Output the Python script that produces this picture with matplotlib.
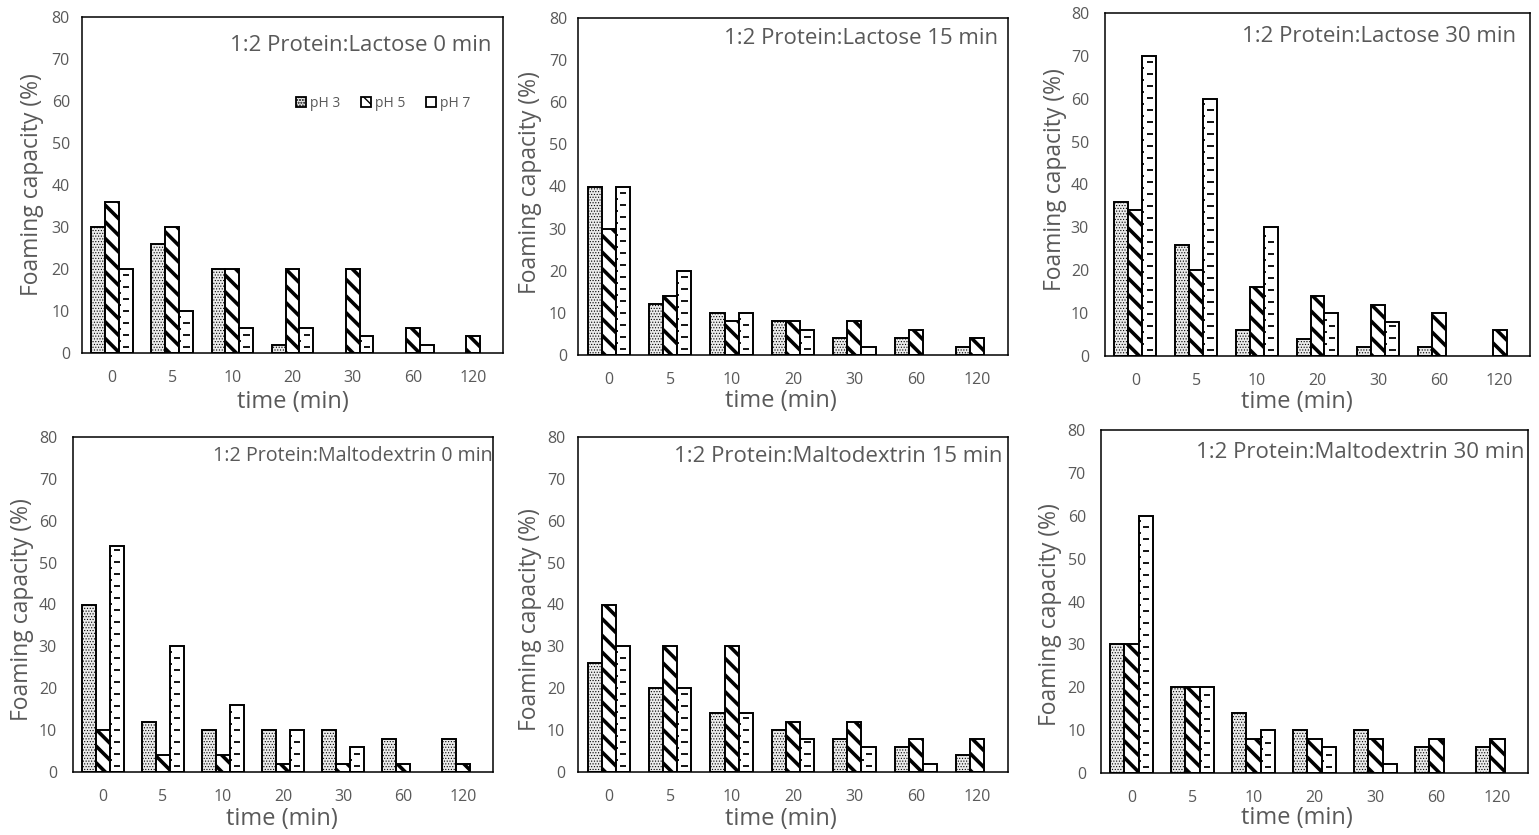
import numpy as np
import matplotlib
matplotlib.use("Agg")
import matplotlib.pyplot as plt
from matplotlib.collections import LineCollection
from matplotlib.patches import Patch

plt.rcParams["font.family"] = ["Open Sans", "DejaVu Sans"]

# ---------------------------------------------------------------- data
times = ["0", "5", "10", "20", "30", "60", "120"]
ph_labels = ["pH 3", "pH 5", "pH 7"]

lac0_ph3 = [30, 26, 20, 2, 0, 0, 0]
lac0_ph5 = [36, 30, 20, 20, 20, 6, 4]
lac0_ph7 = [20, 10, 6, 6, 4, 2, 0]

lac15_ph3 = [40, 12, 10, 8, 4, 4, 2]
lac15_ph5 = [30, 14, 8, 8, 8, 6, 4]
lac15_ph7 = [40, 20, 10, 6, 2, 0, 0]

lac30_ph3 = [36, 26, 6, 4, 2, 2, 0]
lac30_ph5 = [34, 20, 16, 14, 12, 10, 6]
lac30_ph7 = [70, 60, 30, 10, 8, 0, 0]

mal0_ph3 = [40, 12, 10, 10, 10, 8, 8]
mal0_ph5 = [10, 4, 4, 2, 2, 2, 2]
mal0_ph7 = [54, 30, 16, 10, 6, 0, 0]

mal15_ph3 = [26, 20, 14, 10, 8, 6, 4]
mal15_ph5 = [40, 30, 30, 12, 12, 8, 8]
mal15_ph7 = [30, 20, 14, 8, 6, 2, 0]

mal30_ph3 = [30, 20, 14, 10, 10, 6, 6]
mal30_ph5 = [30, 20, 8, 8, 8, 8, 8]
mal30_ph7 = [60, 20, 10, 6, 2, 0, 0]

titles = [
    "1:2 Protein:Lactose 0 min",
    "1:2 Protein:Lactose 15 min",
    "1:2 Protein:Lactose 30 min",
    "1:2 Protein:Maltodextrin 0 min",
    "1:2 Protein:Maltodextrin 15 min",
    "1:2 Protein:Maltodextrin 30 min",
]
panels = [
    (lac0_ph3, lac0_ph5, lac0_ph7),
    (lac15_ph3, lac15_ph5, lac15_ph7),
    (lac30_ph3, lac30_ph5, lac30_ph7),
    (mal0_ph3, mal0_ph5, mal0_ph7),
    (mal15_ph3, mal15_ph5, mal15_ph7),
    (mal30_ph3, mal30_ph5, mal30_ph7),
]

# ---------------------------------------------------------------- layout
W, H = 1539, 835
GREY = "#595959"

# plot-area boxes in pixels: left, top, right, bottom
boxes = [
    (82, 17, 503, 353),
    (578, 18, 1008, 355),
    (1105, 13, 1530, 356),
    (73, 437, 493, 772),
    (578, 437, 1008, 772),
    (1101, 430, 1528, 773),
]
# label anchors in pixels: (ylabel x, ylabel y, xlabel x, xlabel y, title right x, title y)
label_px = [
    (32, 185, 293, 402, 491, 45),
    (530, 183, 781, 401, 998, 39),
    (1055, 180, 1297, 402, 1516, 37),
    (22, 610, 282, 819, 493, 456),
    (530, 620, 781, 819, 1003, 456),
    (1050, 615, 1297, 818, 1525, 452),
]
title_size = [16, 16, 16, 14.2, 16, 16]
# gap between y tick labels and the plot area, in pixels
ytick_gap = [12, 11, 16, 16, 13, 15]

BAR_W = 0.23
styles = [
    dict(facecolor="#ebebeb", hatch="......", hlw=0.5),
    dict(facecolor="white", hatch="\\\\", hlw=2.6),
    dict(facecolor="white", hatch=None, hlw=1.0),
]


def make_bars(ax, xs, vals, style):
    vals = np.asarray(vals, dtype=float)
    keep = vals > 0
    with plt.rc_context({"hatch.linewidth": style["hlw"]}):
        cont = ax.bar(xs[keep], vals[keep], BAR_W, facecolor=style["facecolor"],
                      edgecolor="black", linewidth=1.4, hatch=style["hatch"],
                      zorder=2)
    for p in cont.patches:
        if hasattr(p, "set_hatch_linewidth"):
            p.set_hatch_linewidth(style["hlw"])
    return cont


def add_dash_rows(ax, cont, px_per_unit):
    """Short horizontal dashes stacked inside each bar (brick layout)."""
    step = 6.0 / px_per_unit
    segs = []
    for p in cont.patches:
        x0, w, h = p.get_x(), p.get_width(), p.get_height()
        k = 0
        y = step * 1.0
        while y < h - step * 0.5:
            if k % 2 == 0:
                segs.append([(x0 + 0.30 * w, y), (x0 + 0.75 * w, y)])
            else:
                segs.append([(x0, y), (x0 + 0.15 * w, y)])
            y += step
            k += 1
    ax.add_collection(LineCollection(segs, colors="black", linewidths=1.3,
                                     zorder=3))


fig = plt.figure(figsize=(W / 100, H / 100), dpi=100)
x = np.arange(len(times))
offsets = [-BAR_W, 0.0, BAR_W]

for i, (series, title) in enumerate(zip(panels, titles)):
    l, t, r, b = boxes[i]
    pw, ph = r - l, b - t
    ax = fig.add_axes([l / W, 1 - b / H, pw / W, ph / H])
    conts = []
    for vals, off, st in zip(series, offsets, styles):
        conts.append(make_bars(ax, x + off, vals, st))
    add_dash_rows(ax, conts[2], ph / 80.0)

    ax.set_xlim(-0.5, len(times) - 0.5)
    ax.set_ylim(0, 80)
    ax.set_yticks(np.arange(0, 81, 10))
    ax.set_xticks(x)
    ax.set_xticklabels(times)
    ax.tick_params(axis="both", length=0, labelsize=11.5, labelcolor=GREY)
    ax.tick_params(axis="x", pad=12)
    ax.tick_params(axis="y", pad=ytick_gap[i] * 0.72)
    for s in ax.spines.values():
        s.set_color("black")
        s.set_linewidth(1.1)

    ylx, yly, xlx, xly, tx, ty = label_px[i]
    ax.set_ylabel("Foaming capacity (%)", fontsize=16.5, color=GREY)
    ax.yaxis.label.set_va("center")
    ax.yaxis.set_label_coords((ylx - l) / pw, (b - yly) / ph)
    ax.set_xlabel("time (min)", fontsize=17, color=GREY)
    ax.xaxis.label.set_va("center")
    ax.xaxis.set_label_coords((xlx - l) / pw, (b - xly) / ph)
    ax.text((tx - l) / pw, (b - ty) / ph, title, transform=ax.transAxes,
            ha="right", va="center", fontsize=title_size[i], color=GREY, zorder=5)

    if i == 0:
        handles = []
        for st, lab in zip(styles, ph_labels):
            h = Patch(facecolor=st["facecolor"], edgecolor="black", linewidth=1.3,
                      hatch=st["hatch"] if st["hatch"] else "-", label=lab)
            handles.append(h)
        ax.legend(handles=handles, loc="center", bbox_to_anchor=(0.715, 0.744),
                  ncol=3, frameon=False, fontsize=10, labelcolor=GREY,
                  handlelength=0.7, handleheight=0.7, handletextpad=0.3,
                  columnspacing=1.5)

fig.savefig("out.png", dpi=100)
